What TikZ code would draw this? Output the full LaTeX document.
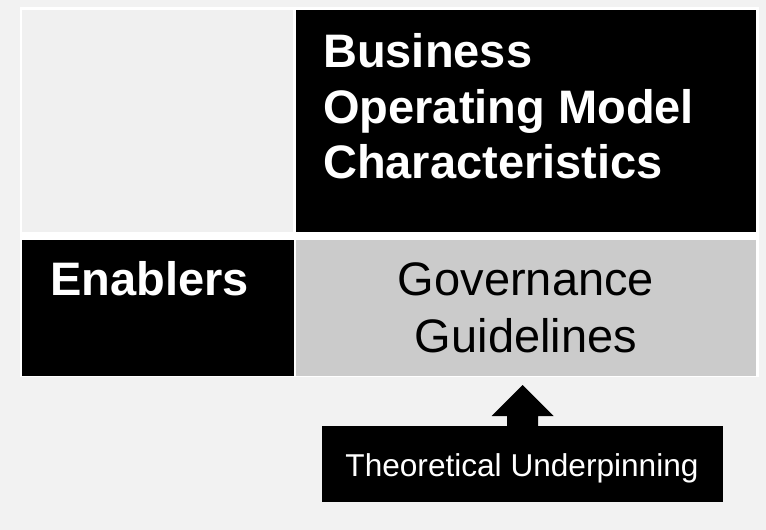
\documentclass[tikz,border=0pt]{standalone}
\usepackage{fontspec}
\setmainfont{Liberation Sans}
\usetikzlibrary{calc}
\definecolor{bgc}{HTML}{F2F2F2}
\definecolor{tlc}{HTML}{F0F0F0}
\definecolor{gvc}{HTML}{CBCBCB}
\begin{document}
\begin{tikzpicture}[x=1pt,y=-1pt,
  cell/.style={draw=none, inner sep=0pt, outer sep=0pt, anchor=north west},
  bigbold/.style={inner sep=0pt, text=white, font=\bfseries\fontsize{47}{56}\selectfont},
  bigreg/.style={inner sep=0pt, text=black, font=\fontsize{47}{56}\selectfont},
  smallreg/.style={inner sep=0pt, text=white, font=\fontsize{31.6}{38}\selectfont}]
\fill[bgc] (0,0) rectangle (766,530);
\useasboundingbox (0,0) rectangle (766,530);
\fill[white] (20,7) rectangle (759,377);
\node[cell, fill=tlc, minimum width=271pt, minimum height=222pt] (tl) at (22,10) {};
\node[cell, fill=black, minimum width=460pt, minimum height=222pt] (bom) at (296,10) {};
\node[cell, fill=black, minimum width=272pt, minimum height=136pt] (en) at (22,240) {};
\node[cell, fill=gvc, minimum width=460pt, minimum height=136pt] (gov) at (296,240) {};
\node[cell, fill=black, minimum width=401pt, minimum height=76pt] (theo) at (322,426) {};
\node[bigbold, anchor=base west] (bom1) at (323,67) {Business};
\node[bigbold, anchor=base west] (bom2) at (323,123) {Operating Model};
\node[bigbold, anchor=base west] (bom3) at (323,178) {Characteristics};
\node[bigbold, anchor=base west] (ent) at (50,295) {Enablers};
\node[bigreg, anchor=base] (gov1) at (526,295) {Governance};
\node[bigreg, anchor=base] (gov2) at (526,352) {Guidelines};
\node[smallreg, anchor=base] (theot) at (522,476) {Theoretical Underpinning};
\coordinate (tip) at ($(theo.north |- gov.south)+(0,9)$);
\fill[black] ($(theo.north)+(-15.5,0)$) -- ($(theo.north)+(-15.5,-10)$) -- ($(theo.north)+(-31,-10)$) -- (tip) -- ($(theo.north)+(31,-10)$) -- ($(theo.north)+(15.5,-10)$) -- ($(theo.north)+(15.5,0)$) -- cycle;
\end{tikzpicture}
\end{document}
